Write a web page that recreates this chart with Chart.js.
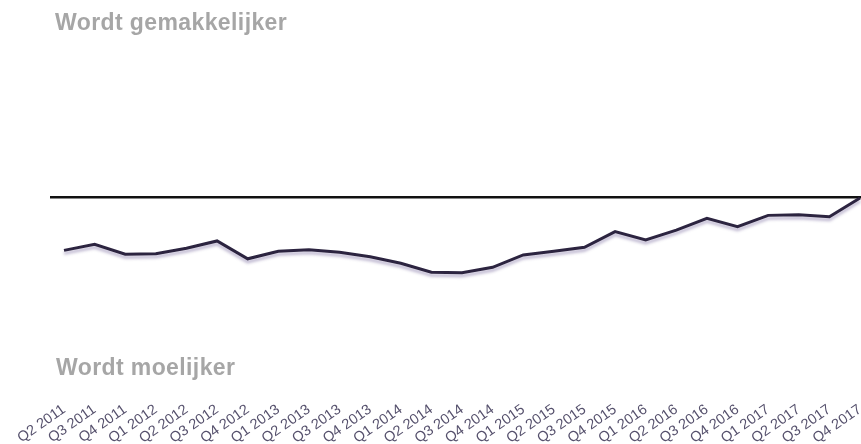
<!DOCTYPE html>
<html>
<head>
<meta charset="utf-8">
<script src="https://cdn.jsdelivr.net/npm/chart.js@4"></script>
<style>
  html, body { margin: 0; padding: 0; background: #fff; }
  #wrap { position: relative; width: 861px; height: 444px; }
  canvas { position: absolute; left: 0; top: 0; }
  .lbl { position: absolute; font-family: "Liberation Sans", Arial, sans-serif; font-weight: bold;
         font-size: 23px; line-height: 23px; letter-spacing: 0.4px; color: #a6a6a6; white-space: nowrap; }
</style>
</head>
<body>
<div id="wrap">
  <canvas id="c" width="861" height="444"></canvas>
  <div class="lbl" id="top" style="left:55px; top:11px;">Wordt gemakkelijker</div>
  <div class="lbl" id="bottom" style="left:56px; top:356px;">Wordt moelijker</div>
</div>
<script>
const categories = ["Q2 2011","Q3 2011","Q4 2011","Q1 2012","Q2 2012","Q3 2012","Q4 2012",
  "Q1 2013","Q2 2013","Q3 2013","Q4 2013","Q1 2014","Q2 2014","Q3 2014","Q4 2014",
  "Q1 2015","Q2 2015","Q3 2015","Q4 2015","Q1 2016","Q2 2016","Q3 2016","Q4 2016",
  "Q1 2017","Q2 2017","Q3 2017","Q4 2017"];
const indexValues = [-30.5,-27.0,-32.7,-32.4,-29.3,-25.1,-35.3,-31.0,-30.1,-31.6,-34.1,-37.9,
  -43.0,-43.3,-40.2,-33.1,-31.0,-28.7,-19.8,-24.6,-18.9,-12.2,-17.0,-10.5,-10.1,-11.3,-0.6];
const yTicks = [-100, 0, 100];

const points = indexValues.map((v, i) => ({ x: i, y: v }));

const shadowPlugin = {
  id: 'lineShadow',
  beforeDatasetDraw(chart) {
    const ctx = chart.ctx;
    ctx.save();
    ctx.shadowColor = 'rgba(110, 95, 150, 0.45)';
    ctx.shadowBlur = 3;
    ctx.shadowOffsetX = 0;
    ctx.shadowOffsetY = 3;
  },
  afterDatasetDraw(chart) {
    chart.ctx.restore();
  }
};

new Chart(document.getElementById('c'), {
  type: 'line',
  data: {
    datasets: [{
      data: points,
      borderColor: '#2c2440',
      borderWidth: 3,
      pointRadius: 0,
      tension: 0,
      fill: false
    }]
  },
  options: {
    responsive: false,
    animation: false,
    events: [],
    layout: { padding: { left: 50, right: 0, top: 22, bottom: 0 } },
    plugins: { legend: { display: false }, tooltip: { enabled: false } },
    scales: {
      x: {
        type: 'linear',
        min: -0.4573,
        max: 26.0327,
        grid: { display: false, drawTicks: false },
        border: { display: false },
        afterBuildTicks: (scale) => {
          scale.ticks = categories.map((_, i) => ({ value: i }));
        },
        afterFit: (scale) => {
          scale.paddingLeft = 0;
          scale.paddingRight = 0;
          scale.height = 72;
        },
        ticks: {
          autoSkip: false,
          maxRotation: 35,
          minRotation: 35,
          padding: 29,
          color: '#55506c',
          font: { family: '"Liberation Sans", Arial, sans-serif', size: 14.5 },
          callback: (v) => categories[Math.round(v)]
        }
      },
      y: {
        min: -100,
        max: 100,
        afterBuildTicks: (scale) => {
          scale.ticks = yTicks.map(v => ({ value: v }));
        },
        afterFit: (scale) => { scale.width = 0; },
        ticks: { display: false },
        border: { display: false },
        grid: {
          drawTicks: false,
          lineWidth: 2.5,
          color: (c) => (c.tick && c.tick.value === 0) ? '#111111' : 'rgba(0,0,0,0)'
        }
      }
    }
  },
  plugins: [shadowPlugin]
});
</script>
</body>
</html>
